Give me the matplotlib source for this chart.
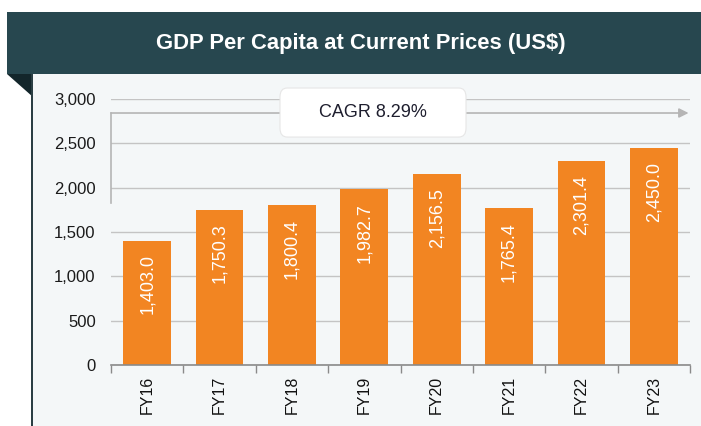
import matplotlib.pyplot as plt
from matplotlib.patches import Rectangle, Polygon, FancyBboxPatch

years = ['FY16', 'FY17', 'FY18', 'FY19', 'FY20', 'FY21', 'FY22', 'FY23']
gdp_pc = [1403.0, 1750.3, 1800.4, 1982.7, 2156.5, 1765.4, 2301.4, 2450.0]
yticks = [0, 500, 1000, 1500, 2000, 2500, 3000]
title = 'GDP Per Capita at Current Prices (US$)'
cagr_text = 'CAGR 8.29%'

W, H = 701, 426
fig = plt.figure(figsize=(W / 100, H / 100), dpi=100)
fig.patch.set_facecolor('white')
fam = ['Liberation Sans', 'DejaVu Sans']


def fx(px):
    return px / W


def fy(py):
    return 1 - py / H


# panel background, header band, left fold
fig.patches.append(Rectangle((fx(32), 0), 1 - fx(32), fy(74), transform=fig.transFigure,
                             facecolor='#f4f7f8', edgecolor='none', zorder=-3))
fig.patches.append(Rectangle((fx(7), fy(74)), 1 - fx(7), fy(12) - fy(74), transform=fig.transFigure,
                             facecolor='#27474f', edgecolor='none', zorder=-2))
fig.patches.append(Polygon([(fx(7), fy(74)), (fx(33), fy(74)), (fx(33), fy(97))],
                           transform=fig.transFigure, facecolor='#13262b', edgecolor='none', zorder=-2))
fig.patches.append(Rectangle((fx(31), 0), fx(2), fy(74), transform=fig.transFigure,
                             facecolor='#2b3f44', edgecolor='none', zorder=-2))
fig.text(fx(361), fy(44), title, color='white', fontsize=15.8, fontweight='bold',
         family=['Liberation Sans Narrow'] + fam, ha='center', va='center')

ax = fig.add_axes([fx(111), fy(365), fx(690) - fx(111), fy(99) - fy(365)])
ax.set_zorder(5)
ax.set_facecolor('none')
x = range(len(years))
ax.bar(x, gdp_pc, width=0.66, color='#f28522', zorder=2)
ax.set_xlim(-0.5, len(years) - 0.5)
ax.set_ylim(0, 3000)
ax.set_yticks(yticks)
ax.set_yticklabels([f'{v:,}' for v in yticks], fontsize=12, family=fam, color='#1a1a1a')
ax.tick_params(axis='y', length=0, pad=11)
ax.grid(axis='y', color='#c4c4c4', linewidth=1, zorder=0)
ax.set_axisbelow(True)

ax.set_xticks(list(x))
ax.set_xticklabels(years, rotation=90, fontsize=11.5, family=fam, color='#111111')
ax.tick_params(axis='x', which='major', length=0, pad=8)
ax.set_xticks([i - 0.5 for i in range(len(years) + 1)], minor=True)
ax.tick_params(axis='x', which='minor', length=6, color='#8a8a8a', width=1)
for s in ['top', 'right', 'left']:
    ax.spines[s].set_visible(False)
ax.spines['bottom'].set_color('#8a8a8a')
ax.spines['bottom'].set_linewidth(1.2)

for xi, v in zip(x, gdp_pc):
    ax.annotate(f'{v:,.1f}', (xi, v), xytext=(0, -10), textcoords='offset points',
                rotation=90, ha='center', va='top', color='white', fontsize=13,
                family=fam, zorder=3)

# CAGR bracket arrow
ax.plot([-0.5, -0.5], [1830, 2842], color='#b5b5b5', lw=1.2, zorder=3, clip_on=False)
ax.annotate('', xy=(7.48, 2842), xytext=(-0.5, 2842),
            arrowprops=dict(arrowstyle='-|>', color='#b5b5b5', lw=1.2, mutation_scale=14,
                            shrinkA=0, shrinkB=0), zorder=3, annotation_clip=False)
box = FancyBboxPatch((1.835, 2571), 2.57, 553, boxstyle='round,pad=0,rounding_size=0.1',
                     mutation_aspect=1000, facecolor='white', edgecolor='#e6e6e6', lw=0.8,
                     zorder=4, clip_on=False)
ax.add_patch(box)
ax.text(3.12, 2848, cagr_text, ha='center', va='center', fontsize=13,
        family=fam, color='#1e1e2e', zorder=5)

fig.savefig('out.png', dpi=100)
